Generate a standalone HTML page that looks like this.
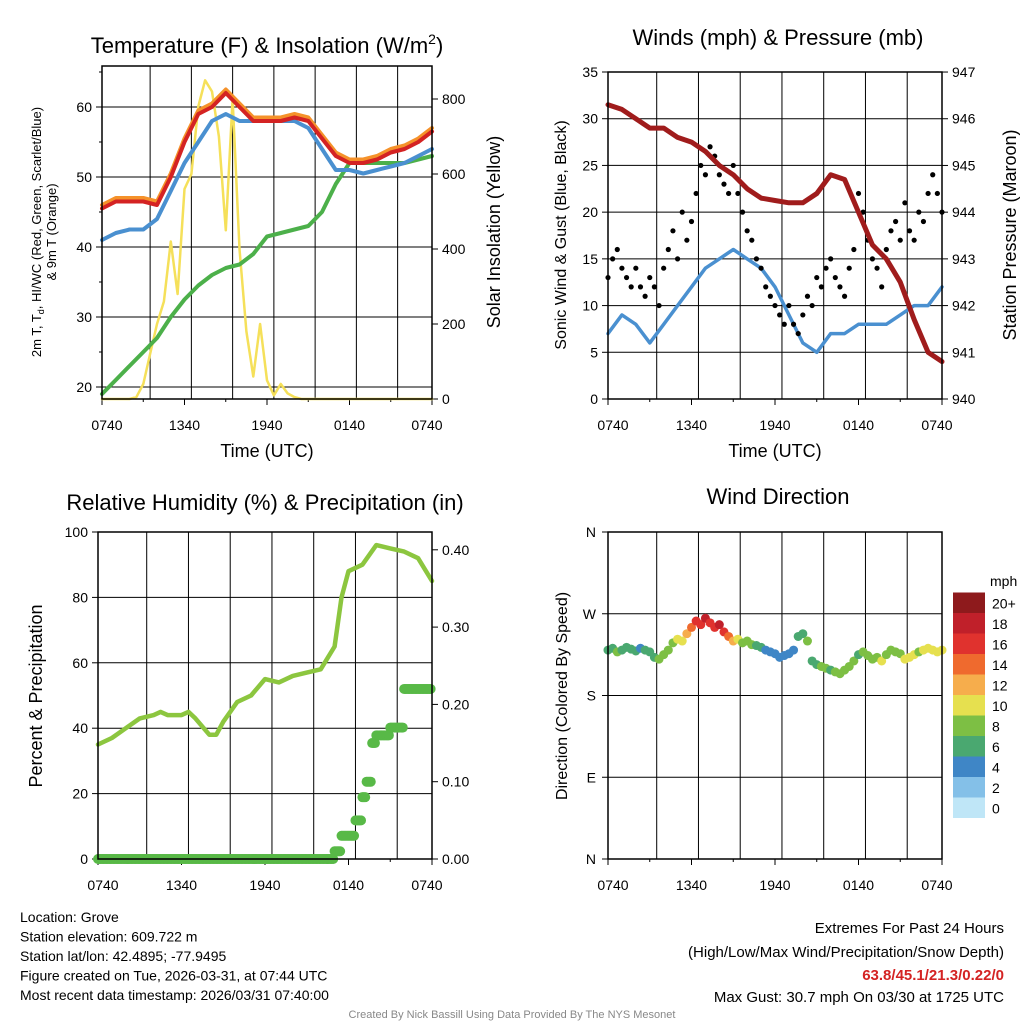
<!DOCTYPE html>
<html><head><meta charset="utf-8"><style>
body{margin:0;background:#fff;width:1024px;height:1024px;overflow:hidden}
svg{font-family:"Liberation Sans",Arial,sans-serif}
</style></head><body>
<svg id="s" width="1024" height="1024" viewBox="0 0 1024 1024"></svg>
<script>
// ---------- data ----------
const xTickLabels=["0740","1340","1940","0140","0740"];
const tRed=[45.5,46.5,46.5,46.5,46,50,55,59,60,62,60,58,58,58,58.5,58,55.5,53,52,52,52.5,53.5,54,55,56.5];
const tOrange=[46,47,47,47,46.5,50.5,55.5,59.5,60.5,62.5,60.5,58.5,58.5,58.5,59,58.5,56,53.5,52.5,52.5,53,54,54.5,55.5,57];
const tBlue=[41,42,42.5,42.5,44,48,52,55,58,59,58,58,58,58,58,57,54,51,51,50.5,51,51.5,52,53,54];
const tGreen=[19,21,23,25,27,30,32.5,34.5,36,37,37.5,39,41.5,42,42.5,43,45,49,52,52,52,52,52,52.5,53];
const solar=[0,0,0,0,0,5,40,120,200,260,420,280,560,600,780,850,820,700,450,800,400,180,60,200,50,10,40,15,5,0,0,0,0,0,0,0,0,0,0,0,0,0,0,0,0,0,0,0,0];
const wind=[7,9,8,6,8,10,12,14,15,16,15,14,12,9,6,5,7,7,8,8,8,9,10,10,12];
const gust=[13,15,16,14,13,12,14,12,11,13,12,10,14,16,18,15,20,17,19,22,25,24,27,26,24,23,22,25,22,20,18,17,15,14,12,11,10,9,8,10,8,7,9,11,10,13,12,14,15,13,12,11,14,16,22,20,17,15,14,12,16,18,19,17,21,18,17,20,19,22,24,22,20];
const pressure=[946.3,946.2,946.0,945.8,945.8,945.6,945.5,945.3,945.0,944.8,944.5,944.3,944.25,944.2,944.2,944.4,944.8,944.7,944.0,943.3,943.0,942.5,941.7,941.0,940.8];
const rh=[35,37,40,43,44,45,44,44,45,43,38,38,42,48,50,55,54,56,57,58,65,80,88,90,96,95,94,92,85];
const rhT=[0,1,2,3,4,4.5,5,6,6.5,7,8,8.5,9,10,11,12,13,14,15,16,17,17.5,18,19,20,21,22,23,24];
const precipT=[0,16.5,17,17.5,18.5,19,19.3,19.7,20,21,22,24];
const precip=[0,0,0.01,0.03,0.05,0.08,0.1,0.15,0.16,0.17,0.22,0.22];
const dir=[230,232,228,230,233,231,229,232,230,228,222,220,225,230,238,242,240,248,255,262,258,265,260,255,258,250,245,240,242,238,240,236,235,233,230,228,226,222,224,226,230,245,248,240,218,214,212,210,208,206,204,208,212,218,225,228,224,220,222,218,225,230,228,226,220,222,225,228,230,232,230,228,230];
const dirSpd=[7,7,8,6,6,7,6,5,6,6,7,8,8,9,9,10,11,12,14,16,17,18,17,16,18,16,15,12,10,9,8,8,7,6,5,4,4,5,4,4,5,6,7,8,6,7,8,8,7,8,8,9,8,8,7,8,8,9,9,10,9,8,8,9,10,11,10,9,10,10,11,10,11];
const cbLabels=["0","2","4","6","8","10","12","14","16","18","20+"];
const cbColors=["#bfe6f7","#84c0e8","#3f86c6","#4aa870","#7dbf44","#e6e04f","#f6ad4c","#ef6a2e","#e0322e","#c0202a","#8e1a1c"];
// ---------- helpers ----------
const S=document.getElementById('s');const NS="http://www.w3.org/2000/svg";
function el(tag,a,parent){const e=document.createElementNS(NS,tag);for(const k in a)e.setAttribute(k,a[k]);(parent||S).appendChild(e);return e;}
function txt(x,y,s,a,name){const e=el('text',Object.assign({x:x,y:y,'font-size':14,fill:'#000'},a||{}));e.textContent=s;

return e;}
function spd2col(v){let i=Math.min(10,Math.max(0,Math.floor(v/2)));return cbColors[i];}
function panel(p,name){
 const g=el('g',{});
 
 
 for(let h=3.5;h<24;h+=3){const x=p.x0+(p.x1-p.x0)*h/24;el('line',{x1:x,x2:x,y1:p.y0,y2:p.y1,stroke:'#000','stroke-width':1},g);}
 xTickLabels.forEach((l,i)=>{const x=p.x0+(p.x1-p.x0)*(i*6)/24;const t=txt(x+(i==0?5:i==4?-5:0),p.y1+31,l,{'text-anchor':'middle','font-size':14},'x-tick-label');g.appendChild(t);
  el('line',{x1:x,x2:x,y1:p.y1,y2:p.y1+6,stroke:'#000'},g);});
 for(let h=0;h<=24;h+=3){const x=p.x0+(p.x1-p.x0)*h/24;el('line',{x1:x,x2:x,y1:p.y1,y2:p.y1+3,stroke:'#000'},g);}
 return g;}
function frame(p,g){el('rect',{x:p.x0,y:p.y0,width:p.x1-p.x0,height:p.y1-p.y0,fill:'none',stroke:'#000','stroke-width':1.5},g);}
function X(p,h){return p.x0+(p.x1-p.x0)*h/24;}
function line(pts,col,w,g,name){const e=el('polyline',{points:pts.map(q=>q[0].toFixed(1)+','+q[1].toFixed(1)).join(' '),fill:'none',stroke:col,'stroke-width':w,'stroke-linejoin':'round','stroke-linecap':'round'},g);
 
 return e;}
function yticks(p,g,vals,fy,fmt,side,minor){vals.forEach(v=>{const y=fy(v);
 if(side=='l'){el('line',{x1:p.x0-6,x2:p.x0,y1:y,y2:y,stroke:'#000'},g);txt(p.x0-10,y+5,fmt(v),{'text-anchor':'end'},'y-tick-label');}
 else{el('line',{x1:p.x1,x2:p.x1+6,y1:y,y2:y,stroke:'#000'},g);txt(p.x1+10,y+5,fmt(v),{'text-anchor':'start'},'y2-tick-label');}
 if(p.grid)el('line',{x1:p.x0,x2:p.x1,y1:y,y2:y,stroke:'#000'},g);});
 (minor||[]).forEach(v=>{const y=fy(v);if(side=='l')el('line',{x1:p.x0-3,x2:p.x0,y1:y,y2:y,stroke:'#000'},g);else el('line',{x1:p.x1,x2:p.x1+3,y1:y,y2:y,stroke:'#000'},g);});}

// ---------- Panel 1 ----------
{const p={x0:102,x1:432,y0:66,y1:399,grid:true};const g=panel(p,'temperature-panel');
 const fy=v=>387-(v-20)*7, fs=v=>399-v*0.375;
 yticks(p,g,[20,30,40,50,60],fy,v=>v,'l',[25,35,45,55,65]);
 yticks({x0:p.x0,x1:p.x1,grid:false},g,[0,200,400,600,800],fs,v=>v,'r');
 line(solar.map((v,i)=>[X(p,i*0.5),fs(v)]),'#f5e05a',2.5,g,'solar-insolation-line');
 line(tGreen.map((v,i)=>[X(p,i),fy(v)]),'#4cb04a',4,g,'dewpoint-line');
 line(tBlue.map((v,i)=>[X(p,i),fy(v)]),'#4a90d0',4,g,'hiwc-line');
 line(tOrange.map((v,i)=>[X(p,i),fy(v)]),'#f5922a',4,g,'temp-9m-line');
 line(tRed.map((v,i)=>[X(p,i),fy(v)]),'#d42323',4,g,'temp-2m-line');
 frame(p,g);
 const t=txt(267,53,'Temperature (F) & Insolation (W/m',{'text-anchor':'middle','font-size':22},'panel-title');const ts=document.createElementNS(NS,'tspan');ts.setAttribute('dy','-9');ts.setAttribute('font-size','14');ts.textContent='2';t.appendChild(ts);const ts2=document.createElementNS(NS,'tspan');ts2.setAttribute('dy','9');ts2.textContent=')';t.appendChild(ts2);
 txt(267,457,'Time (UTC)',{'text-anchor':'middle','font-size':18},'x-axis-title');
 txt(0,0,'2m T, T',{'font-size':13,'text-anchor':'middle',transform:'translate(41,232) rotate(-90)'},'y-axis-title').innerHTML='2m T, T<tspan font-size="9" dy="3">d</tspan><tspan dy="-3">, HI/WC (Red, Green, Scarlet/Blue)</tspan>';
 txt(0,0,'& 9m T (Orange)',{'font-size':13,'text-anchor':'middle',transform:'translate(56,232) rotate(-90)'},'y-axis-title');
 txt(0,0,'Solar Insolation (Yellow)',{'font-size':18,'text-anchor':'middle',transform:'translate(500,232) rotate(-90)'},'y2-axis-title');
}
// ---------- Panel 2 ----------
{const p={x0:608,x1:942,y0:72,y1:399,grid:true};const g=panel(p,'winds-panel');
 const fy=v=>399-v*9.343, fp=v=>399-(v-940)*46.71;
 yticks(p,g,[0,5,10,15,20,25,30,35],fy,v=>v,'l');
 yticks({x0:p.x0,x1:p.x1},g,[940,941,942,943,944,945,946,947],fp,v=>v,'r');
 line(wind.map((v,i)=>[X(p,i),fy(v)]),'#4a90d0',3.5,g,'sonic-wind-line');
 gust.forEach((v,i)=>{const c=el('circle',{cx:X(p,i/3),cy:fy(v),r:2.6,fill:'#000'},g);
  
  });
 line(pressure.map((v,i)=>[X(p,i),fp(v)]),'#a01c1c',5,g,'pressure-line');
 frame(p,g);
 txt(778,45,'Winds (mph) & Pressure (mb)',{'text-anchor':'middle','font-size':22},'panel-title');
 txt(775,457,'Time (UTC)',{'text-anchor':'middle','font-size':18},'x-axis-title');
 txt(0,0,'Sonic Wind & Gust (Blue, Black)',{'font-size':16,'text-anchor':'middle',transform:'translate(566,235) rotate(-90)'},'y-axis-title');
 txt(0,0,'Station Pressure (Maroon)',{'font-size':18,'text-anchor':'middle',transform:'translate(1016,235) rotate(-90)'},'y2-axis-title');
}
// ---------- Panel 3 ----------
{const p={x0:98,x1:432,y0:532,y1:859,grid:true};const g=panel(p,'humidity-panel');
 const fy=v=>859-v*3.27, fr=v=>859-v*773;
 yticks(p,g,[0,20,40,60,80,100],fy,v=>v,'l');
 yticks({x0:p.x0,x1:p.x1},g,[0,0.1,0.2,0.3,0.4],fr,v=>v.toFixed(2),'r');
 line(rh.map((v,i)=>[X(p,rhT[i]),fy(v)]),'#8cc63f',4.5,g,'rh-line');
 for(let i=0;i<precipT.length-1;i++){for(let h=precipT[i];h<precipT[i+1];h+=0.1){const c=el('circle',{cx:X(p,h),cy:fr(precip[i]),r:5,fill:'#58b947'},g);
  
  }}
 frame(p,g);
 txt(265,510,'Relative Humidity (%) & Precipitation (in)',{'text-anchor':'middle','font-size':22},'panel-title');
 txt(0,0,'Percent & Precipitation',{'font-size':18,'text-anchor':'middle',transform:'translate(42,696) rotate(-90)'},'y-axis-title');
}
// ---------- Panel 4 ----------
{const p={x0:608,x1:942,y0:532,y1:859,grid:false};const g=panel(p,'wind-direction-panel');
 const fy=v=>859-v*0.9083;
 [0,90,180,270,360].forEach((v,i)=>{const y=fy(v);el('line',{x1:p.x0,x2:p.x1,y1:y,y2:y,stroke:'#000'},g);el('line',{x1:p.x0-6,x2:p.x0,y1:y,y2:y,stroke:'#000'},g);txt(p.x0-12,y+5,["N","E","S","W","N"][i],{'text-anchor':'end'},'y-tick-label');});
 dir.forEach((v,i)=>{const c=el('circle',{cx:X(p,i/3),cy:fy(v),r:4.5,fill:spd2col(dirSpd[i])},g);
  
  });
 frame(p,g);
 txt(778,504,'Wind Direction',{'text-anchor':'middle','font-size':22},'panel-title');
 txt(0,0,'Direction (Colored By Speed)',{'font-size':16,'text-anchor':'middle',transform:'translate(567,696) rotate(-90)'},'y-axis-title');
 const cb=el('g',{});
 txt(990,586,'mph',{'font-size':14},'colorbar-title');
 cbColors.forEach((c,i)=>{const y=818-(i+1)*20.5;el('rect',{x:953,y:y,width:32,height:20.5,fill:c},cb);txt(992,y+16,cbLabels[i],{},'colorbar-label');});
}
// ---------- footer ----------
["Location: Grove","Station elevation: 609.722 m","Station lat/lon: 42.4895; -77.9495","Figure created on Tue, 2026-03-31, at 07:44 UTC","Most recent data timestamp: 2026/03/31 07:40:00"].forEach((s,i)=>txt(20,922+i*19.5,s,{'font-size':14},'station-info'));
txt(1004,933,'Extremes For Past 24 Hours',{'text-anchor':'end','font-size':15},'extremes-title');
txt(1004,957,'(High/Low/Max Wind/Precipitation/Snow Depth)',{'text-anchor':'end','font-size':15},'extremes-subtitle');
txt(1004,980,'63.8/45.1/21.3/0.22/0',{'text-anchor':'end','font-size':15,'font-weight':'bold',fill:'#d42323'},'extremes-values');
txt(1004,1002,'Max Gust: 30.7 mph On 03/30 at 1725 UTC',{'text-anchor':'end','font-size':15},'max-gust');
txt(512,1018,'Created By Nick Bassill Using Data Provided By The NYS Mesonet',{'text-anchor':'middle','font-size':11,fill:'#888'},'credit');
</script>
</body></html>
